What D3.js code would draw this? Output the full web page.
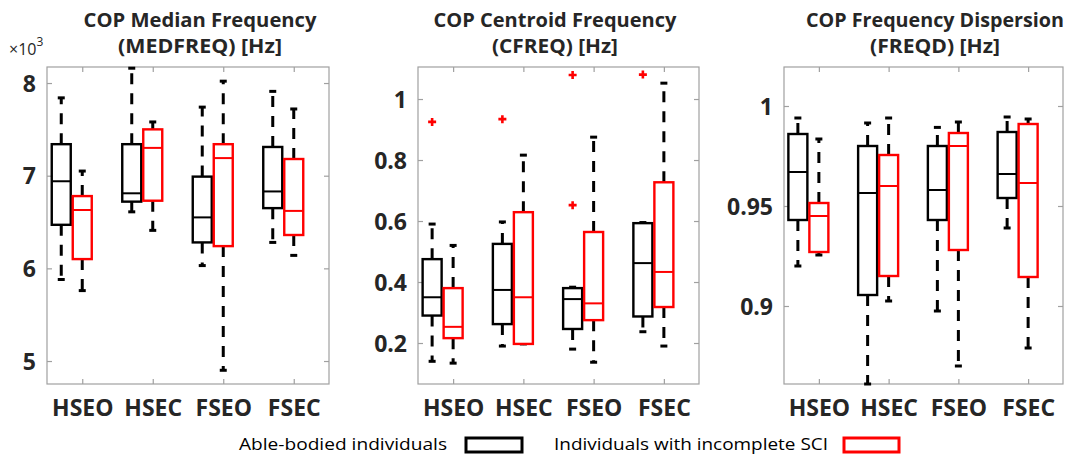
<!DOCTYPE html>
<html>
<head>
<meta charset="utf-8">
<script src="https://cdn.jsdelivr.net/npm/d3@7"></script>
<style>
  html, body { margin: 0; padding: 0; background: #fff; }
  svg { display: block; }
</style>
</head>
<body>
<svg id="chart" width="1070" height="459"></svg>
<script>
// ---------------- DATA ----------------
const categories = ["HSEO", "HSEC", "FSEO", "FSEC"];
const groupNames = ["Able-bodied individuals", "Individuals with incomplete SCI"];
const groupColors = ["#000000", "#ff0000"];

// each box: [lower whisker, Q1, median, Q3, upper whisker]
// Panel 1: COP Median Frequency (MEDFREQ) [Hz], values in ×10^-3
const medfreqTitle = ["COP Median Frequency", "(MEDFREQ) [Hz]"];
const medfreqTicks = [5, 6, 7, 8];
const medfreqAble = [
  [5.88, 6.47, 6.94, 7.34, 7.84],
  [6.61, 6.72, 6.81, 7.34, 8.16],
  [6.03, 6.28, 6.55, 6.99, 7.74],
  [6.28, 6.65, 6.83, 7.31, 7.91]
];
const medfreqSCI = [
  [5.76, 6.10, 6.63, 6.78, 7.05],
  [6.41, 6.73, 7.30, 7.50, 7.58],
  [4.90, 6.24, 7.19, 7.34, 8.02],
  [6.14, 6.36, 6.62, 7.18, 7.72]
];
const medfreqOutAble = [[], [], [], []];
const medfreqOutSCI = [[], [], [], []];

// Panel 2: COP Centroid Frequency (CFREQ) [Hz]
const cfreqTitle = ["COP Centroid Frequency", "(CFREQ) [Hz]"];
const cfreqTicks = [0.2, 0.4, 0.6, 0.8, 1];
const cfreqAble = [
  [0.14, 0.29, 0.35, 0.475, 0.59],
  [0.19, 0.262, 0.374, 0.525, 0.597],
  [0.18, 0.246, 0.344, 0.38, 0.383],
  [0.237, 0.287, 0.462, 0.593, 0.595]
];
const cfreqSCI = [
  [0.134, 0.216, 0.253, 0.38, 0.52],
  [0.197, 0.197, 0.35, 0.629, 0.816],
  [0.137, 0.275, 0.33, 0.564, 0.875],
  [0.19, 0.318, 0.433, 0.727, 1.052]
];
const cfreqOutAble = [[0.925], [0.934], [1.079, 0.652], [1.08]];
const cfreqOutSCI = [[], [], [], []];

// Panel 3: COP Frequency Dispersion (FREQD) [Hz]
const freqdTitle = ["COP Frequency Dispersion", "(FREQD) [Hz]"];
const freqdTicks = [0.9, 0.95, 1];
const freqdAble = [
  [0.920, 0.943, 0.967, 0.986, 0.994],
  [0.861, 0.9055, 0.9565, 0.980, 0.9915],
  [0.8975, 0.943, 0.958, 0.980, 0.9893],
  [0.939, 0.954, 0.966, 0.987, 0.9945]
];
const freqdSCI = [
  [0.9255, 0.927, 0.945, 0.9515, 0.9835],
  [0.9025, 0.915, 0.960, 0.9755, 0.994],
  [0.870, 0.928, 0.980, 0.9865, 0.992],
  [0.879, 0.9145, 0.9615, 0.991, 0.9935]
];
const freqdOutAble = [[], [], [], []];
const freqdOutSCI = [[], [], [], []];

// ---------------- LAYOUT ----------------
const svg = d3.select("#chart");
const plotTop = 67, plotBottom = 384;
const panels = [
  { title: medfreqTitle, ticks: medfreqTicks, fmt: d3.format("d"), domain: [4.752, 8.173],
    x0: 47, x1: 329, titleX: 200, titleW: [233, 164], data: [medfreqAble, medfreqSCI],
    outliers: [medfreqOutAble, medfreqOutSCI], exponent: true },
  { title: cfreqTitle, ticks: cfreqTicks, fmt: d => (d === 1 ? "1" : d3.format(".1f")(d)), domain: [0.0656, 1.105],
    x0: 418, x1: 699, titleX: 555, titleW: [243, 126], data: [cfreqAble, cfreqSCI],
    outliers: [cfreqOutAble, cfreqOutSCI] },
  { title: freqdTitle, ticks: freqdTicks, fmt: d => (d === 1 ? "1" : (d === 0.9 ? "0.9" : "0.95")), domain: [0.861, 1.0195],
    x0: 784, x1: 1063, titleX: 935, titleW: [258, 130], data: [freqdAble, freqdSCI],
    outliers: [freqdOutAble, freqdOutSCI] }
];

const boxW = 19;
const groupOffset = [-21, 0];
const textColor = "#262626";
const frameColor = "#a0a0a0";
const fontFam = "'Open Sans', 'DejaVu Sans', sans-serif";

panels.forEach(p => {
  const g = svg.append("g");
  const y = d3.scaleLinear().domain(p.domain).range([plotBottom, plotTop]);
  const x = d3.scalePoint().domain(categories).range([p.x0, p.x1]).padding(0.5);

  // frame
  g.append("rect").attr("x", p.x0).attr("y", plotTop)
    .attr("width", p.x1 - p.x0).attr("height", plotBottom - plotTop)
    .attr("fill", "none").attr("stroke", frameColor).attr("stroke-width", 1.2);

  // axes (ticks inside)
  const left = g.append("g").attr("transform", `translate(${p.x0},0)`)
    .call(d3.axisLeft(y).tickValues(p.ticks).tickFormat(p.fmt).tickSize(-5).tickPadding(11));
  const right = g.append("g").attr("transform", `translate(${p.x1},0)`)
    .call(d3.axisRight(y).tickValues(p.ticks).tickSize(-5).tickFormat(""));
  const bottom = g.append("g").attr("transform", `translate(0,${plotBottom})`)
    .call(d3.axisBottom(x).tickSize(-5).tickPadding(16));
  const top = g.append("g").attr("transform", `translate(0,${plotTop})`)
    .call(d3.axisTop(x).tickSize(-5).tickFormat(""));
  [left, right, bottom, top].forEach(a => {
    a.select(".domain").remove();
    a.selectAll(".tick line").attr("stroke", frameColor).attr("stroke-width", 1.2);
  });
  left.selectAll(".tick text")
    .attr("font-family", fontFam).attr("font-weight", "bold").attr("font-size", 23)
    .attr("fill", textColor).attr("dy", "0.36em");
  bottom.selectAll(".tick text")
    .attr("font-family", fontFam).attr("font-weight", "bold").attr("font-size", 23)
    .attr("fill", textColor).attr("dy", "0.71em");

  // boxes
  [0, 1].forEach(gi => {
    const col = groupColors[gi];
    p.data[gi].forEach((s, ci) => {
      const cx = x(categories[ci]) + groupOffset[gi];
      const [lw, q1, med, q3, uw] = s;
      // whiskers (dashed)
      g.append("line").attr("x1", cx).attr("x2", cx).attr("y1", y(q3)).attr("y2", y(uw))
        .attr("stroke", "#000").attr("stroke-width", 3).attr("stroke-dasharray", "11,9");
      g.append("line").attr("x1", cx).attr("x2", cx).attr("y1", y(q1)).attr("y2", y(lw))
        .attr("stroke", "#000").attr("stroke-width", 3).attr("stroke-dasharray", "11,9");
      // caps
      [lw, uw].forEach(v => {
        g.append("line").attr("x1", cx - 3.5).attr("x2", cx + 3.5).attr("y1", y(v)).attr("y2", y(v))
          .attr("stroke", "#000").attr("stroke-width", 3);
      });
      // box
      g.append("rect").attr("x", cx - boxW / 2).attr("y", y(q3))
        .attr("width", boxW).attr("height", Math.max(0.5, y(q1) - y(q3)))
        .attr("fill", "#fff").attr("stroke", col).attr("stroke-width", 2.4);
      // median
      g.append("line").attr("x1", cx - boxW / 2).attr("x2", cx + boxW / 2)
        .attr("y1", y(med)).attr("y2", y(med)).attr("stroke", col).attr("stroke-width", 2);
      // outliers
      p.outliers[gi][ci].forEach(v => {
        const oy = y(v);
        g.append("path").attr("d", `M${cx - 4},${oy}H${cx + 4}M${cx},${oy - 4}V${oy + 4}`)
          .attr("stroke", "#ff0000").attr("stroke-width", 2.6);
      });
    });
  });

  // title
  [27, 53].forEach((ty, i) => {
    svg.append("text").attr("x", p.titleX).attr("y", ty).attr("text-anchor", "middle")
      .attr("font-family", fontFam).attr("font-weight", "bold").attr("font-size", 20)
      .attr("fill", textColor)
      .attr("textLength", p.titleW[i]).attr("lengthAdjust", "spacingAndGlyphs")
      .text(p.title[i]);
  });

  if (p.exponent) {
    const t = svg.append("text").attr("x", 9).attr("y", 55)
      .attr("font-family", fontFam).attr("font-size", 16).attr("fill", textColor);
    t.append("tspan").text("×10");
    t.append("tspan").attr("dy", -9).attr("font-size", 12).text("3");
  }
});

// ---------------- LEGEND ----------------
const leg = svg.append("g");
leg.append("text").attr("x", 239).attr("y", 450)
  .attr("font-family", fontFam).attr("font-size", 17).attr("fill", "#000")
  .attr("textLength", 208).attr("lengthAdjust", "spacingAndGlyphs").text(groupNames[0]);
leg.append("rect").attr("x", 466).attr("y", 438).attr("width", 56).attr("height", 14)
  .attr("fill", "#fff").attr("stroke", groupColors[0]).attr("stroke-width", 3);
leg.append("text").attr("x", 554).attr("y", 450)
  .attr("font-family", fontFam).attr("font-size", 17).attr("fill", "#000")
  .attr("textLength", 274).attr("lengthAdjust", "spacingAndGlyphs").text(groupNames[1]);
leg.append("rect").attr("x", 844).attr("y", 438).attr("width", 55).attr("height", 14)
  .attr("fill", "#fff").attr("stroke", groupColors[1]).attr("stroke-width", 3);
</script>
</body>
</html>
